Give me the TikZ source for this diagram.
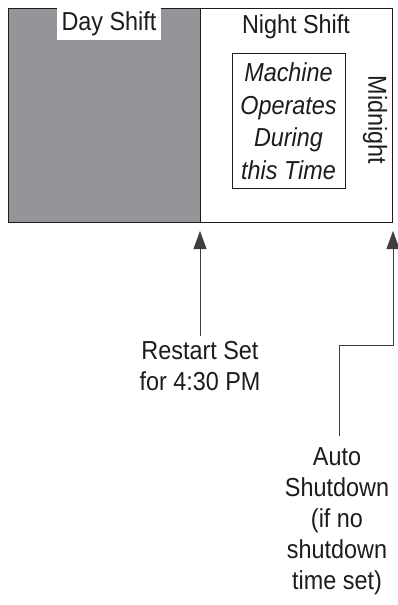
\documentclass[tikz,border=0pt]{standalone}
\usepackage{fontspec}
\setmainfont{Liberation Sans}[FakeStretch=0.9]
\usetikzlibrary{arrows.meta}
\definecolor{bargray}{RGB}{148,149,153}
\definecolor{ink}{RGB}{30,27,28}
\begin{document}
\begin{tikzpicture}[x=1pt,y=-1pt,
  lbl/.style={inner sep=0pt,align=center,text=ink,font=\fontsize{26}{31}\selectfont},
  frame/.style={draw=ink,line width=0.9pt},
  conn/.style={draw=ink!85,line width=0.8pt},
  arr/.style={conn,-{Triangle[width=13pt,length=18pt]}}]
\useasboundingbox (0,0) rectangle (398,605);
% main bar
\fill[bargray] (8,8) rectangle (200,222);
\node[frame,minimum width=384pt,minimum height=214pt,anchor=north west,inner sep=0pt] (bar) at (8,8) {};
\draw[frame] (200,8) -- (200,222);
\node[fill=white,anchor=north,inner sep=0pt,minimum width=104pt,minimum height=32pt,lbl] (day) at (109,8) {Day Shift};
\node[lbl,anchor=base] (night) at (296,33) {Night Shift};
\node[frame,anchor=north west,inner sep=0pt,minimum width=113pt,minimum height=135pt] (op) at (232,53) {};
\node[lbl,font=\fontsize{26}{32.5}\selectfont\itshape] (optext) at (288.5,121) {Machine\\Operates\\During\\this Time};
\node[lbl,rotate=-90] (mid) at (375,120) {Midnight};
% labels
\node[lbl,anchor=north] (restart) at (200,341) {Restart Set\\for 4:30 PM};
\node[lbl,anchor=north] (auto) at (337,447) {Auto\\Shutdown\\(if no\\shutdown\\time set)};
% connectors
\coordinate (t1) at (200,231);
\coordinate (t2) at (393,231);
\coordinate (s1) at (200,336);
\coordinate (s2) at (339,436);
\draw[arr] (s1) -- (t1);
\draw[arr] (s2) |- (393,345) -- (t2);
\end{tikzpicture}
\end{document}
